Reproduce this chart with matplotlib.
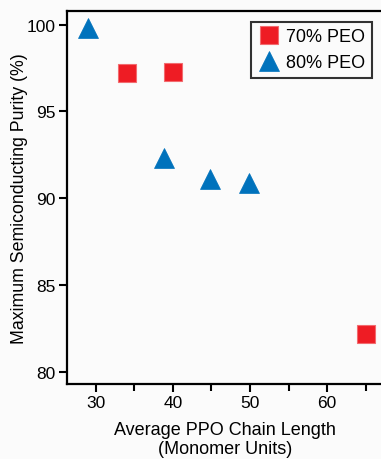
import matplotlib
matplotlib.use("Agg")
import matplotlib.pyplot as plt
from matplotlib.ticker import MultipleLocator

plt.rcParams["font.family"] = ["Liberation Sans", "DejaVu Sans"]

peo70_len = [34, 40, 65]
peo70_purity = [97.2, 97.3, 82.2]
peo80_len = [29, 38.8, 44.8, 49.9]
peo80_purity = [99.8, 92.3, 91.1, 90.9]

red = "#ee1c24"
blue = "#0072bc"
bg = "#fbfbfb"

fig = plt.figure(figsize=(3.81, 4.6), dpi=100, facecolor=bg)
ax = fig.add_axes([0.176, 0.163, 0.83, 0.811], facecolor=bg)

ax.plot(peo70_len, peo70_purity, "s", ms=13.5, color=red, mec="#f26b6f", mew=0.8,
        linestyle="none", label="70% PEO")
ax.plot(peo80_len, peo80_purity, "^", ms=15, color=blue, mec=blue, mew=0.5,
        linestyle="none", label="80% PEO")

ax.set_xlim(26.25, 67.3)
ax.set_ylim(79.29, 100.79)
ax.xaxis.set_major_locator(MultipleLocator(10))
ax.xaxis.set_minor_locator(MultipleLocator(5))
ax.yaxis.set_major_locator(MultipleLocator(5))

for side in ("left", "bottom", "top"):
    ax.spines[side].set_linewidth(1.6)
ax.spines["right"].set_visible(False)

ax.tick_params(axis="both", which="major", direction="out", length=6, width=1.5,
               labelsize=12.5, pad=2)
ax.tick_params(axis="x", which="minor", direction="out", length=5, width=1.5)
ax.tick_params(axis="y", which="minor", left=False)

ax.set_xlabel("Average PPO Chain Length\n(Monomer Units)", fontsize=13,
              linespacing=1.12)
ax.set_ylabel("Maximum Semiconducting Purity (%)", fontsize=12.8)
ax.xaxis.set_label_coords(0.5, -0.1)
ax.yaxis.set_label_coords(-0.125, 0.5)

leg = ax.legend(loc="upper right", bbox_to_anchor=(0.975, 0.98), fontsize=13,
                frameon=True, fancybox=False, handletextpad=0.3, borderpad=0.35,
                labelspacing=0.5, handlelength=1.3, borderaxespad=0.2)
leg.get_frame().set_edgecolor("black")
leg.get_frame().set_linewidth(1.5)
leg.get_frame().set_facecolor(bg)

fig.savefig("out.png", dpi=100, facecolor=bg)
